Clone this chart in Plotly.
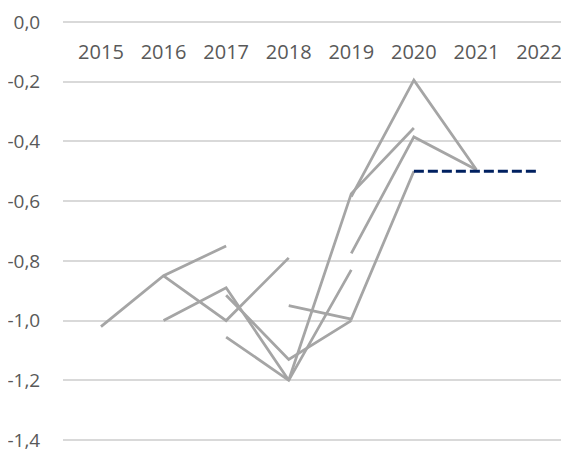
import plotly.graph_objects as go

# Forecast vintages (grey) – each a list of (years, values)
years_g1 = [2015, 2016, 2017]; vals_g1 = [-1.02, -0.85, -0.75]
years_g2 = [2016, 2017, 2018]; vals_g2 = [-0.85, -1.00, -0.79]
years_g3 = [2016, 2017, 2018]; vals_g3 = [-1.00, -0.89, -1.20]
years_g4 = [2017, 2018, 2019]; vals_g4 = [-0.915, -1.13, -1.00]
years_g5 = [2017, 2018, 2019]; vals_g5 = [-1.055, -1.20, -0.83]
years_g6 = [2018, 2019, 2020]; vals_g6 = [-0.95, -0.995, -0.50]
years_g7 = [2018, 2019, 2020]; vals_g7 = [-1.20, -0.575, -0.355]
years_g8 = [2019, 2020, 2021]; vals_g8 = [-0.585, -0.195, -0.495]
years_g9 = [2019, 2020, 2021]; vals_g9 = [-0.775, -0.385, -0.495]

# Latest vintage (dashed navy)
years_latest = [2020, 2021, 2022]
vals_latest = [-0.50, -0.50, -0.50]

x_ticks = [2015, 2016, 2017, 2018, 2019, 2020, 2021, 2022]
x_ticktext = ["2015", "2016", "2017", "2018", "2019", "2020", "2021", "2022"]
y_ticks = [0.0, -0.2, -0.4, -0.6, -0.8, -1.0, -1.2, -1.4]
y_ticktext = ["0,0", "-0,2", "-0,4", "-0,6", "-0,8", "-1,0", "-1,2", "-1,4"]

grey_series = [
    (years_g1, vals_g1), (years_g2, vals_g2), (years_g3, vals_g3),
    (years_g4, vals_g4), (years_g5, vals_g5), (years_g6, vals_g6),
    (years_g7, vals_g7), (years_g8, vals_g8), (years_g9, vals_g9),
]

fig = go.Figure()
for xs, ys in grey_series:
    fig.add_trace(go.Scatter(x=xs, y=ys, mode="lines",
                             line=dict(color="#a5a5a5", width=2.75),
                             showlegend=False, hoverinfo="skip"))
fig.add_trace(go.Scatter(x=years_latest, y=vals_latest, mode="lines",
                         line=dict(color="#002060", width=3, dash="10px,4px"),
                         showlegend=False, hoverinfo="skip"))

font_color = "#595959"
fig.update_layout(
    width=561, height=442,
    margin=dict(l=55, r=0, t=8, b=4),
    paper_bgcolor="white", plot_bgcolor="white",
    font=dict(family="Open Sans", size=19, color=font_color),
    xaxis=dict(
        range=[2014.393, 2022.479],
        tickvals=x_ticks, ticktext=x_ticktext,
        showgrid=False, zeroline=False, showline=False,
        anchor="free", position=1 - 0.02 / 1.44, side="bottom",
        ticks="outside", ticklen=12, tickcolor="rgba(0,0,0,0)",
        tickfont=dict(family="Open Sans", size=20, color=font_color),
        automargin=False, ticklabeloverflow="allow",
    ),
    yaxis=dict(
        range=[-1.42, 0.02],
        tickvals=y_ticks, ticktext=y_ticktext,
        showgrid=True, gridcolor="#d9d9d9", gridwidth=1.5,
        zeroline=False, showline=False,
        ticks="outside", ticklen=18, tickcolor="rgba(0,0,0,0)",
        tickfont=dict(family="Open Sans", size=19, color=font_color),
        automargin=False, ticklabeloverflow="allow",
    ),
)

fig.write_html("out.html")
